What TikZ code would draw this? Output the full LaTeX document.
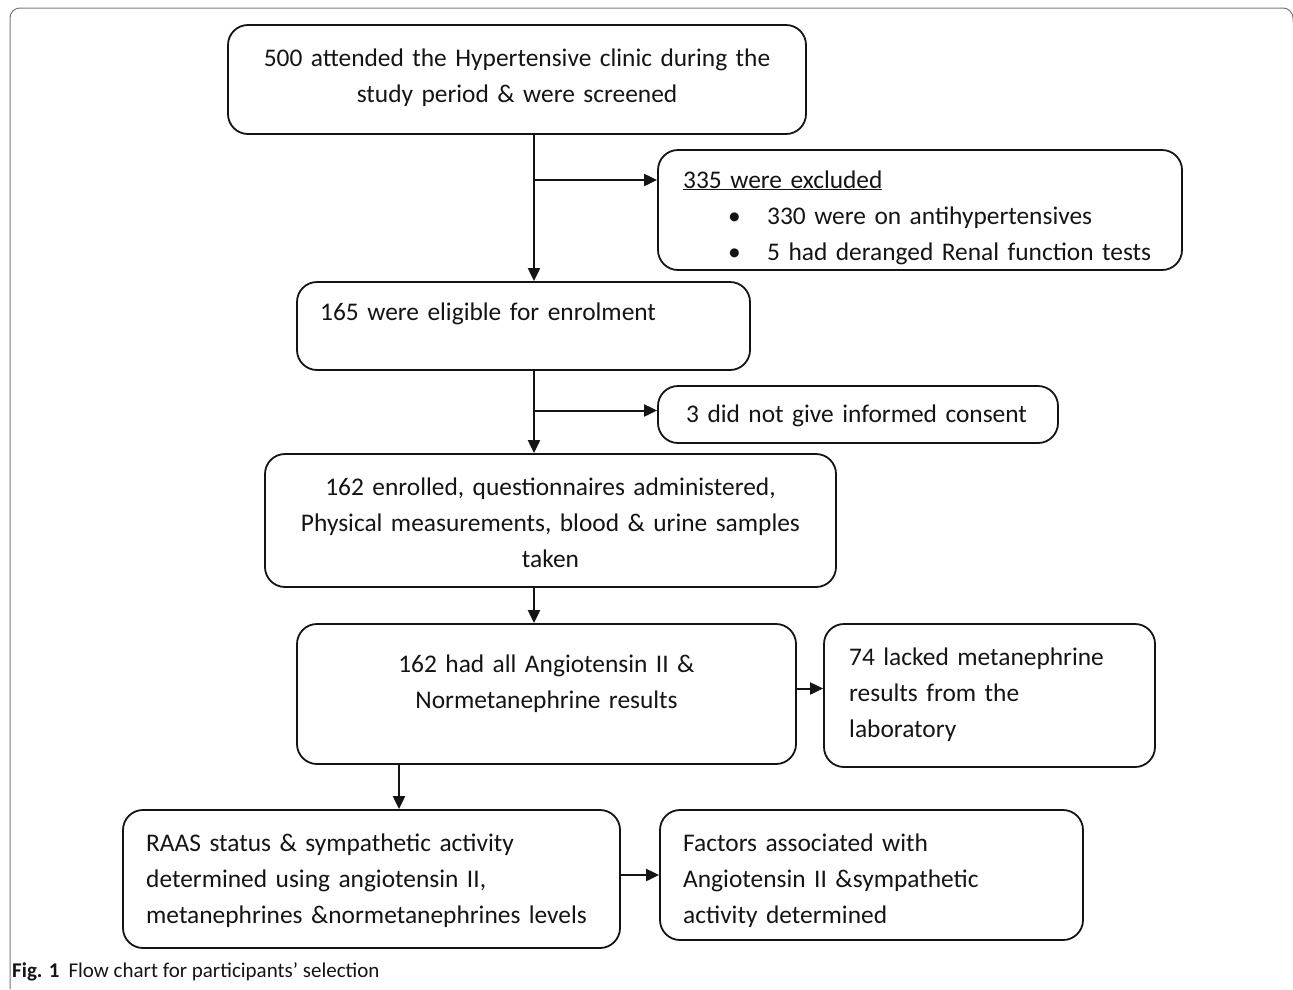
\documentclass[tikz,border=0pt]{standalone}
\usepackage{fontspec}
\setmainfont{Carlito}
\usetikzlibrary{arrows.meta}

\begin{document}
\begin{tikzpicture}[x=1pt,y=-1pt]
% Define colors
\definecolor{framegray}{RGB}{120,120,120}
\definecolor{inkcolor}{RGB}{20,20,20}

\tikzset{
  box/.style={draw=inkcolor, line width=1.8pt, rounded corners=20pt, inner sep=0pt},
  flow/.style={draw=inkcolor, line width=2pt, -{Triangle[length=13pt,width=12pt]}},
  boxtext/.style={inner sep=0pt, text=inkcolor, font=\fontsize{25.4}{36}\selectfont},
}

% Page and outer frame
\useasboundingbox (0,0) rectangle (1293,989);
\draw[framegray, line width=1pt, rounded corners=10pt] (10,989) -- (10,8) -- (1293,8) -- (1293,22);

% Boxes
\node[box, minimum width=578, minimum height=109] (screen) at (517,79.5) {};
\node[box, minimum width=524, minimum height=120] (excl) at (920,210) {};
\node[box, minimum width=453, minimum height=88] (elig) at (523.5,326) {};
\node[box, minimum width=400, minimum height=57] (consent) at (858,414.5) {};
\node[box, minimum width=571, minimum height=133] (enrol) at (550.5,520.5) {};
\node[box, minimum width=499, minimum height=140] (result) at (546.5,694) {};
\node[box, minimum width=331, minimum height=143] (lacked) at (989.5,695.5) {};
\node[box, minimum width=497, minimum height=138] (raas) at (371.5,879) {};
\node[box, minimum width=423, minimum height=130] (factor) at (871.5,875) {};

% Box texts
\node[boxtext, text width=570, align=center, anchor=base] (screentxt) at (517,66)
  {500 attended the Hypertensive clinic during the\\ study period \& were screened};
\node[boxtext, text width=490, align=left, anchor=base west] (excltxt) at (683,188)
  {\underline{335 were excluded}\\
   \hspace*{45pt}\makebox[39pt][l]{\textbullet}330 were on antihypertensives\\
   \hspace*{45pt}\makebox[39pt][l]{\textbullet}5 had deranged Renal function tests};
\node[boxtext, text width=420, align=left, anchor=base west] (eligtxt) at (320,320)
  {165 were eligible for enrolment};
\node[boxtext, text width=370, align=left, anchor=base west] (consenttxt) at (686,422)
  {3 did not give informed consent};
\node[boxtext, text width=570, align=center, anchor=base] (enroltxt) at (550.5,495)
  {162 enrolled, questionnaires administered,\\ Physical measurements, blood \& urine samples\\ taken};
\node[boxtext, text width=490, align=center, anchor=base] (resulttxt) at (546.5,672)
  {162 had all Angiotensin II \&\\ Normetanephrine results};
\node[boxtext, text width=300, align=left, anchor=base west] (lackedtxt) at (849,665)
  {74 lacked metanephrine\\ results from the\\ laboratory};
\node[boxtext, text width=470, align=left, anchor=base west] (raastxt) at (146,851)
  {RAAS status \& sympathetic activity\\ determined using angiotensin II,\\ metanephrines \&normetanephrines levels};
\node[boxtext, text width=390, align=left, anchor=base west] (factortxt) at (683,851)
  {Factors associated with\\ Angiotensin II \&sympathetic\\ activity determined};

% Connectors
\coordinate (spine) at (534,0);
\coordinate (drop) at (399,0);
\coordinate (exclin) at ([yshift=30pt]excl.west);
\coordinate (consentin) at ([yshift=4pt]consent.west);
\coordinate (lackedin) at ([yshift=7pt]lacked.west);
\draw[flow] (spine |- screen.south) -- (spine |- elig.north);
\draw[flow] (spine |- exclin) -- (exclin);
\draw[flow] (spine |- elig.south) -- (spine |- enrol.north);
\draw[flow] (spine |- consentin) -- (consentin);
\draw[flow] (spine |- enrol.south) -- (spine |- result.north);
\draw[flow] (result.east |- lackedin) -- (lackedin);
\draw[flow] (drop |- result.south) -- (drop |- raas.north);
\draw[flow] (raas.east |- factor.west) -- (factor.west);

% Caption
\node[anchor=base west, inner sep=0pt, text=inkcolor, font=\fontsize{21}{24}\selectfont] (caption) at (12,977)
  {\textbf{Fig. 1}\hspace{9pt}Flow chart for participants' selection};

\end{tikzpicture}
\end{document}
